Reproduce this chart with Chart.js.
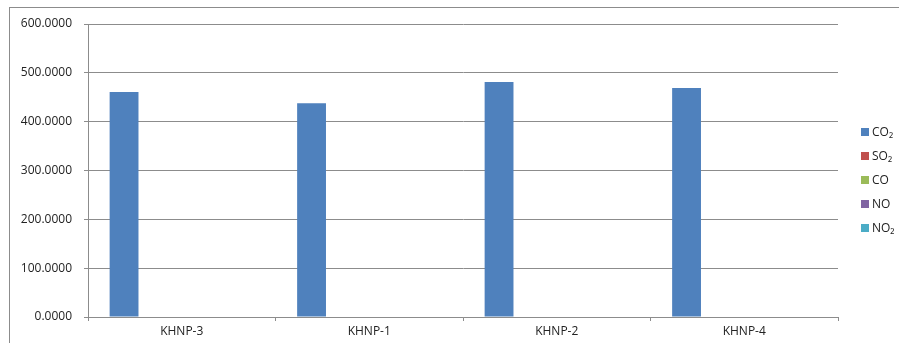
<!DOCTYPE html>
<html>
<head>
<meta charset="utf-8">
<script src="https://cdn.jsdelivr.net/npm/chart.js@4/dist/chart.umd.min.js"></script>
<style>
  html, body { margin: 0; padding: 0; background: #fff; overflow: hidden; }
  #wrap { position: relative; width: 899px; height: 343px; }
  #frame { position: absolute; left: 9px; top: 7px; width: 1000px; height: 400px;
           border-left: 1px solid #8c8c8c; border-top: 1px solid #8c8c8c; box-sizing: border-box; }
  canvas { position: absolute; left: 0; top: 0; }
  #legend { position: absolute; left: 861px; top: 123px; font-family: "Open Sans", sans-serif;
            font-size: 12px; color: #222; }
  .item { height: 24px; display: flex; align-items: flex-start; }
  .sw { width: 8px; height: 8px; margin-top: 5px; margin-right: 3px; }
</style>
</head>
<body>
<div id="wrap">
  <div id="frame"></div>
  <canvas id="c" width="899" height="343"></canvas>
  <div id="legend"></div>
</div>
<script>
// Emission measurements per unit
const categories = ["KHNP-3", "KHNP-1", "KHNP-2", "KHNP-4"];
const seriesNames = ["CO₂", "SO₂", "CO", "NO", "NO₂"];
const co2 = [460.5, 437.5, 481.0, 469.0];
const so2 = [0, 0, 0, 0];
const co  = [0, 0, 0, 0];
const no  = [0, 0, 0, 1.0];
const no2 = [0, 0, 0, 0];
const yTicks = [0, 100, 200, 300, 400, 500, 600];

const colors = ["#4F81BD", "#C0504D", "#9BBB59", "#8064A2", "#4BACC6"];
const values = [co2, so2, co, no, no2];

const datasets = seriesNames.map((name, i) => ({
  label: name,
  data: values[i],
  backgroundColor: colors[i],
  borderWidth: 0,
  categoryPercentage: 5 / 6.5,
  barPercentage: 1.0
}));

const font = { family: "'Open Sans', sans-serif", size: 12 };

new Chart(document.getElementById("c"), {
  type: "bar",
  data: { labels: categories, datasets },
  options: {
    responsive: false,
    animation: false,
    layout: { padding: { left: 0, top: 24, right: 61, bottom: 0 } },
    plugins: { legend: { display: false }, tooltip: { enabled: false } },
    scales: {
      x: {
        offset: true,
        grid: { offset: true, drawOnChartArea: false, drawTicks: true, tickLength: 4, color: "#8c8c8c" },
        border: { display: true, color: "#8c8c8c", width: 1 },
        ticks: { color: "#222", font, padding: 3, maxRotation: 0 },
        afterFit: s => { s.height = 26; }
      },
      y: {
        min: 0, max: 600,
        afterBuildTicks: s => { s.ticks = yTicks.map(v => ({ value: v })); },
        grid: { color: "#8c8c8c", tickLength: 4, drawTicks: true },
        border: { display: true, color: "#8c8c8c", width: 1 },
        ticks: { color: "#222", font, padding: 12, callback: v => Number(v).toFixed(4) },
        afterFit: s => { s.width = 88; }
      }
    }
  }
});

// Legend built from the same series
const lg = document.getElementById("legend");
seriesNames.forEach((name, i) => {
  const row = document.createElement("div");
  row.className = "item";
  const sw = document.createElement("span");
  sw.className = "sw";
  sw.style.background = colors[i];
  const tx = document.createElement("span");
  tx.textContent = name;
  row.appendChild(sw);
  row.appendChild(tx);
  lg.appendChild(row);
});
</script>
</body>
</html>
